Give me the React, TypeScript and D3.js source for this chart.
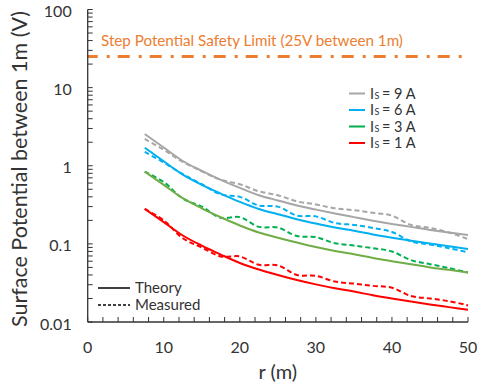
import * as d3 from 'd3';

// distance from the electrode (m)
const rValues = [7.5, 10, 12.5, 15, 17.5, 20, 22.5, 25, 27.5, 30, 32.5, 35, 37.5, 40, 42.5, 45, 47.5, 50];

// theory curves (V)
const theory9 = [2.55, 1.71, 1.15, 0.86, 0.66, 0.52, 0.42, 0.36, 0.31, 0.275, 0.245, 0.22, 0.198, 0.18, 0.165, 0.151, 0.14, 0.13];
const theory6 = [1.7, 1.14, 0.77, 0.57, 0.44, 0.345, 0.28, 0.24, 0.207, 0.182, 0.162, 0.147, 0.132, 0.12, 0.11, 0.101, 0.093, 0.086];
const theory3 = [0.84, 0.57, 0.384, 0.285, 0.219, 0.172, 0.14, 0.12, 0.104, 0.091, 0.081, 0.0735, 0.066, 0.06, 0.055, 0.05, 0.0465, 0.043];
const theory1 = [0.28, 0.19, 0.128, 0.095, 0.073, 0.057, 0.047, 0.04, 0.0345, 0.0303, 0.027, 0.0245, 0.022, 0.02, 0.0183, 0.0168, 0.0155, 0.0143];

// measured curves (V)
const measured9 = [2.2, 1.6, 1.12, 0.85, 0.66, 0.58, 0.47, 0.42, 0.35, 0.32, 0.285, 0.27, 0.25, 0.23, 0.175, 0.16, 0.14, 0.115];
const measured6 = [1.5, 1.1, 0.78, 0.58, 0.43, 0.4, 0.31, 0.3, 0.23, 0.225, 0.185, 0.175, 0.16, 0.142, 0.108, 0.098, 0.088, 0.078];
const measured3 = [0.84, 0.62, 0.38, 0.3, 0.215, 0.22, 0.165, 0.162, 0.126, 0.122, 0.102, 0.095, 0.088, 0.08, 0.062, 0.055, 0.049, 0.043];
const measured1 = [0.28, 0.2, 0.118, 0.09, 0.069, 0.069, 0.054, 0.053, 0.04, 0.039, 0.033, 0.031, 0.029, 0.0275, 0.0215, 0.02, 0.0185, 0.0163];

const safetyLimit = 25;
const xTicks = [0, 10, 20, 30, 40, 50];
const yTicks = [0.01, 0.1, 1, 10, 100];
const yTickLabels = ['0.01', '0.1', '1', '10', '100'];

const seriesNames = ['9', '6', '3', '1'];
const seriesColors = ['#a6a6a6', '#00b0f0', '#00b050', '#ff0000'];
const theoryColors = ['#a6a6a6', '#00b0f0', '#70ad47', '#ff0000'];
const theorySeries = [theory9, theory6, theory3, theory1];
const measuredSeries = [measured9, measured6, measured3, measured1];

const font = 'Lato, "Open Sans", sans-serif';
const textColor = '#333';

export default function App() {
  const width = 477;
  const height = 391;
  const x = d3.scaleLinear().domain([0, 50]).range([87.7, 468]);
  const y = d3.scaleLog().domain([0.01, 100]).range([322, 9.5]);

  const toPts = (vals: number[]) => vals.map((v, i) => [rValues[i], v] as [number, number]);
  const theoryLine = d3.line<[number, number]>()
    .x(d => x(d[0]))
    .y(d => y(d[1]))
    .curve(d3.curveMonotoneX);
  const measuredLine = d3.line<[number, number]>()
    .x(d => x(d[0]))
    .y(d => y(d[1]))
    .curve(d3.curveCatmullRom.alpha(0.5));

  const xMinor = x.ticks(25);
  const yMinor = y.ticks();

  return (
    <div style={{ position: 'absolute', left: 0, top: 0 }}>
      <svg width={width} height={height} style={{ display: 'block', background: '#fff' }}>
        {/* safety limit */}
        <text x={101} y={46} fontFamily={font} fontSize={15.2} fill="#ed7d31">
          Step Potential Safety Limit (25V between 1m)
        </text>
        <line
          x1={x(0)} x2={x(50)} y1={y(safetyLimit)} y2={y(safetyLimit)}
          stroke="#ed7d31" strokeWidth={3} strokeDasharray="12,9,3,8" strokeDashoffset={2}
        />

        {/* curves */}
        {measuredSeries.map((s, i) => (
          <path key={'m' + i} d={measuredLine(toPts(s)) || ''} fill="none"
            stroke={seriesColors[i]} strokeWidth={2} strokeDasharray="5,3" />
        ))}
        {theorySeries.map((s, i) => (
          <path key={'t' + i} d={theoryLine(toPts(s)) || ''} fill="none"
            stroke={theoryColors[i]} strokeWidth={2} />
        ))}

        {/* axes */}
        <line x1={x(0)} x2={x(0)} y1={y(100)} y2={y(0.01)} stroke={textColor} strokeWidth={1.3} />
        <line x1={x(0)} x2={x(50)} y1={y(0.01)} y2={y(0.01)} stroke={textColor} strokeWidth={1.3} />
        {yMinor.map((t, i) => (
          <line key={'yt' + i} x1={x(0)} x2={x(0) + 5} y1={y(t)} y2={y(t)} stroke={textColor} strokeWidth={1} />
        ))}
        {xMinor.map((t, i) => (
          <line key={'xt' + i} x1={x(t)} x2={x(t)} y1={y(0.01)} y2={y(0.01) - 5} stroke={textColor} strokeWidth={1} />
        ))}
        {yTicks.map((t, i) => (
          <text key={'yl' + i} x={x(0) - 16} y={y(t) + 2} dy="0.35em" textAnchor="end"
            fontFamily={font} fontSize={16} fill={textColor}>{yTickLabels[i]}</text>
        ))}
        {xTicks.map((t, i) => (
          <text key={'xl' + i} x={x(t)} y={y(0.01) + 25} dy="0.35em" textAnchor="middle"
            fontFamily={font} fontSize={16} fill={textColor}>{t}</text>
        ))}
        <text x={(x(0) + x(50)) / 2} y={379} textAnchor="middle" fontFamily={font} fontSize={20} fill={textColor}>
          r (m)
        </text>
        <text transform={`translate(27,169) rotate(-90)`} textAnchor="middle"
          fontFamily={font} fontSize={21.5} fill={textColor}>
          Surface Potential between 1m (V)
        </text>

        {/* current legend */}
        {seriesNames.map((n, i) => (
          <g key={'lg' + i} transform={`translate(349,${93.5 + i * 16.5})`}>
            <line x1={0} x2={16} y1={0} y2={0} stroke={seriesColors[i]} strokeWidth={2} />
            <text x={21} y={0} dy="0.35em" fontFamily={font} fontSize={14.5} fill={textColor}>I</text>
            <text x={25.5} y={2} dy="0.35em" fontFamily={font} fontSize={9} fill={textColor}>S</text>
            <text x={33} y={0} dy="0.35em" fontFamily={font} fontSize={14.5} fill={textColor}>{`= ${n} A`}</text>
          </g>
        ))}

        {/* line style legend */}
        <line x1={98} x2={130} y1={288} y2={288} stroke="#000" strokeWidth={1.5} />
        <text x={135} y={288} dy="0.35em" fontFamily={font} fontSize={15} fill={textColor}>Theory</text>
        <line x1={98} x2={130} y1={305} y2={305} stroke="#000" strokeWidth={1.5} strokeDasharray="3,2" />
        <text x={135} y={305} dy="0.35em" fontFamily={font} fontSize={15} fill={textColor}>Measured</text>
      </svg>
    </div>
  );
}
